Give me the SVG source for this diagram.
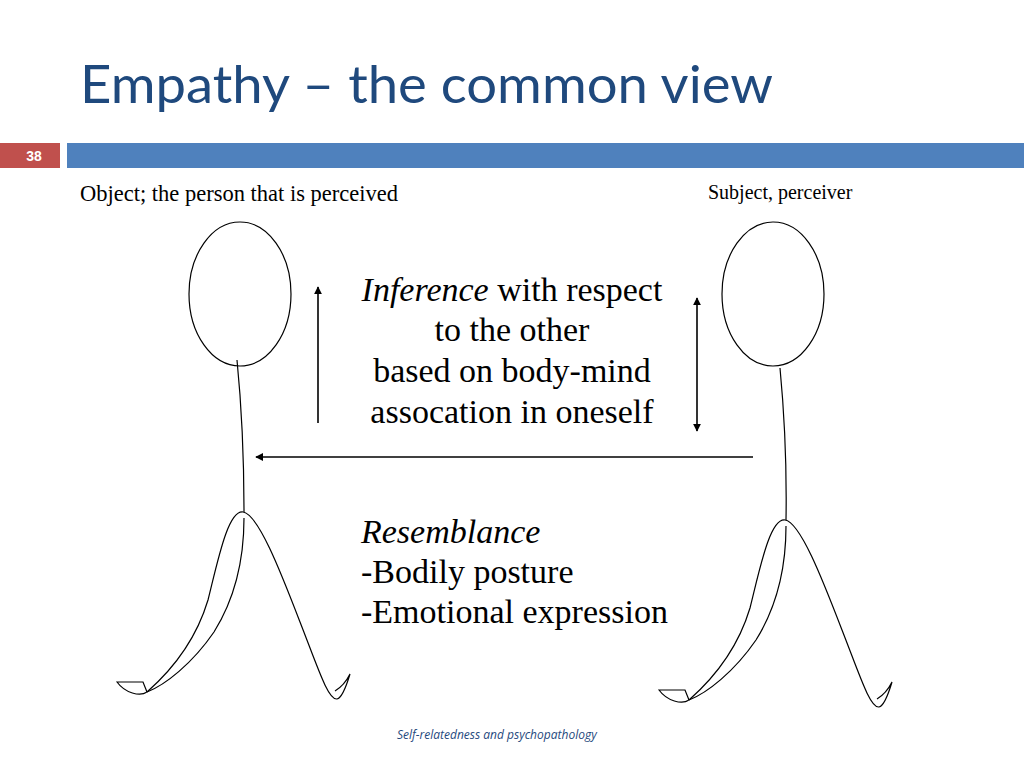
<svg xmlns="http://www.w3.org/2000/svg" width="1024" height="768" viewBox="0 0 1024 768">
<style>
.ln{fill:none;stroke:#000;stroke-width:1.2}
.ar{fill:none;stroke:#000;stroke-width:1.6}
.tm{font-family:"Liberation Serif","Times New Roman",serif;fill:#000}
</style>
<defs>
<marker id="ah" viewBox="0 0 10 10" refX="9" refY="5" markerWidth="5" markerHeight="5" orient="auto-start-reverse" markerUnits="strokeWidth">
<path d="M0,0 L10,5 L0,10 Z" fill="#000"/>
</marker>
<g id="figure">
<path class="ln" d="M243,512 C228,510 218,560 208,600 C196,640 172,670 147,692"/>
<path class="ln" d="M244,518 C244,560 234,600 214,632 C192,664 165,685 147,692"/>
<path class="ln" d="M147,692 C140,697 125,693 117,682 L143,682 L147,692"/>
<path class="ln" d="M243,512 C258,514 280,570 300,622 C318,668 328,700 337,699 C342,698 347,684 350,674 C346,682 340,688 335,691"/>
</g>
</defs>
<rect width="1024" height="768" fill="#fff"/>
<g id="header">
<text x="80" y="103" font-family="Lato,'Open Sans',sans-serif" font-size="52" fill="#1F497D" textLength="693" lengthAdjust="spacingAndGlyphs">Empathy – the common view</text>
<rect x="0" y="143" width="60" height="25" fill="#C0504D"/>
<rect x="67" y="143" width="957" height="25" fill="#4F81BD"/>
<text x="34" y="161" text-anchor="middle" font-family="'Liberation Sans',Arial,sans-serif" font-weight="bold" font-size="14" fill="#fff">38</text>
</g>
<g id="object-label"><text class="tm" font-family="'Liberation Serif',serif" x="80" y="201" font-size="22.5">Object; the person that is perceived</text></g>
<g id="subject-label"><text class="tm" font-family="'Liberation Serif',serif" x="708" y="199" font-size="20">Subject, perceiver</text></g>
<g id="object-person">
<ellipse class="ln" cx="240" cy="294" rx="51" ry="72"/>
<path class="ln" d="M237,360 C241,400 244,450 244,512"/>
<use href="#figure"/>
</g>
<g id="subject-person">
<ellipse class="ln" cx="773" cy="294" rx="51" ry="72"/>
<path class="ln" d="M780,368 C784,410 787,460 786,520"/>
<use href="#figure" transform="translate(542,8)"/>
</g>
<g id="connectors">
<line class="ar" x1="318" y1="423" x2="318" y2="287" marker-end="url(#ah)"/>
<line class="ar" x1="697" y1="298" x2="697" y2="431" marker-start="url(#ah)" marker-end="url(#ah)"/>
<line class="ar" x1="753" y1="457" x2="256" y2="457" marker-end="url(#ah)"/>
</g>
<g id="inference-text">
<text class="tm" font-family="'Liberation Serif',serif" font-size="34" text-anchor="middle" x="512" y="301"><tspan font-style="italic">Inference</tspan> with respect</text>
<text class="tm" font-family="'Liberation Serif',serif" font-size="34" text-anchor="middle" x="512" y="341">to the other</text>
<text class="tm" font-family="'Liberation Serif',serif" font-size="34" text-anchor="middle" x="512" y="382">based on body-mind</text>
<text class="tm" font-family="'Liberation Serif',serif" font-size="34" text-anchor="middle" x="512" y="423">assocation in oneself</text>
</g>
<g id="resemblance-text">
<text class="tm" font-family="'Liberation Serif',serif" font-size="34" x="361" y="543" font-style="italic">Resemblance</text>
<text class="tm" font-family="'Liberation Serif',serif" font-size="34" x="361" y="583">-Bodily posture</text>
<text class="tm" font-family="'Liberation Serif',serif" font-size="34" x="361" y="623">-Emotional expression</text>
</g>
<g id="footer"><text x="397" y="739" font-family="'Open Sans',sans-serif" font-style="italic" font-size="12" fill="#1F497D">Self-relatedness and psychopathology</text></g>
</svg>
